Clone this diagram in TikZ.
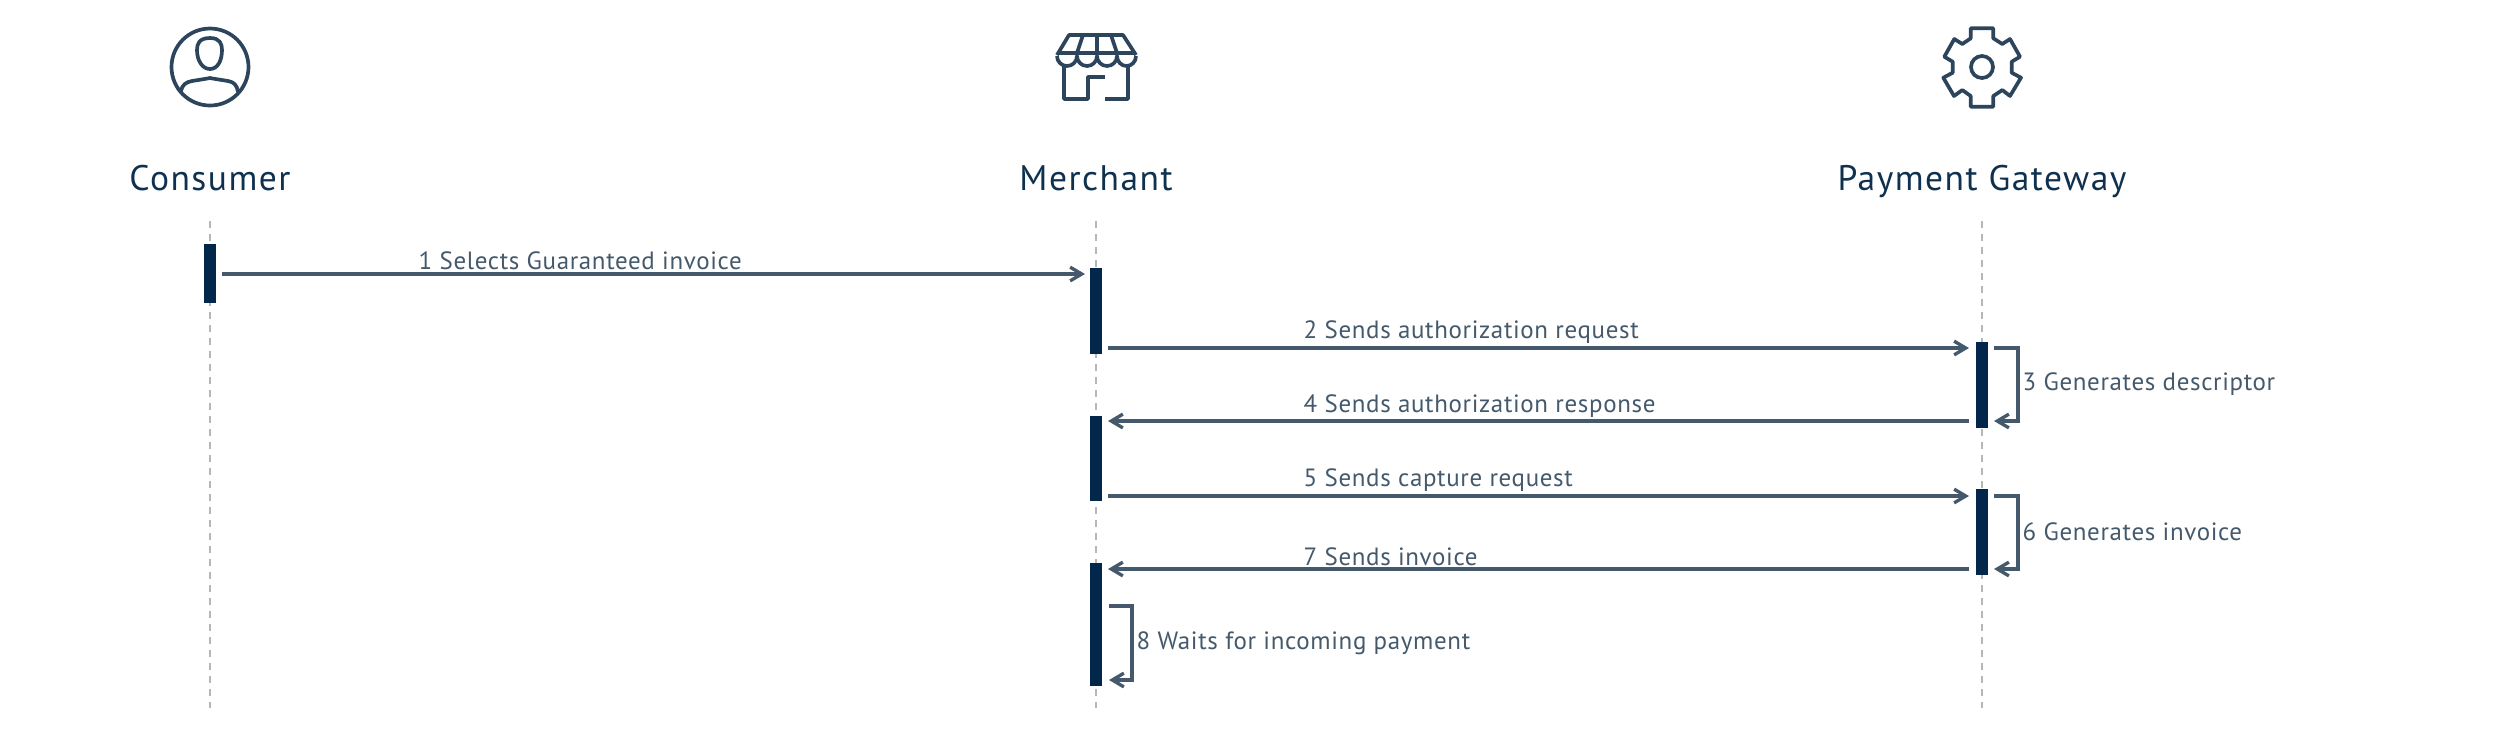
\documentclass[tikz,border=0pt]{standalone}
\usepackage{xcolor}
\usepackage{fontspec}
\usepackage{tikz}
\usetikzlibrary{arrows.meta}
\setmainfont{PT Sans}
\newfontfamily\titleFont[LetterSpace=4.2]{PT Sans}
\newfontfamily\labelFont[LetterSpace=2.6]{PT Sans}
\definecolor{navyBar}{HTML}{02274A}
\definecolor{navyTitle}{HTML}{0F3150}
\definecolor{slateArrow}{HTML}{44596B}
\definecolor{slateIcon}{HTML}{2C455C}
\definecolor{grayLifeline}{HTML}{B4B8BC}

\begin{document}
\begin{tikzpicture}[x=0.01cm,y=-0.01cm]

            \tikzset{
                titlebox/.style={
                    anchor=base,
                    inner sep=0pt,
                    font=\titleFont\fontsize{10.1}{12}\selectfont,
                    text=navyTitle
                },
                msglabel/.style={
                    anchor=base west,
                    inner sep=0pt,
                    font=\labelFont\fontsize{7.1}{9}\selectfont,
                    text=slateArrow
                },
                actbar/.style={
                    fill=navyBar,
                    inner sep=0pt,
                    minimum width=0.125cm
                },
                lifeline/.style={
                    draw=grayLifeline,
                    line width=0.3pt,
                    dash pattern=on 2pt off 1.7pt
                },
                msgarrow/.style={
                    draw=slateArrow,
                    line width=1.3pt,
                    -{Straight Barb[length=3.3pt,width=3.9pt,line width=0.95pt]}
                },
                iconline/.style={
                    draw=slateIcon,
                    line width=1.05pt,
                    line join=round
                }
            }

            \newcommand{\ActBar}[4]{%
                \node[actbar, minimum height=#4*0.01cm] (#1) at (#2,#3) {};
            }
            \newcommand{\MsgArrow}[7]{%
                \coordinate (#1From) at (#2,#4);
                \coordinate (#1To) at (#3,#4);
                \draw[msgarrow] (#1From) -- (#1To);
                \node[msglabel] (#1Label) at (#5,#6) {#7};
            }
            \newcommand{\SelfArrow}[7]{%
                \coordinate (#1From) at (#2,#4);
                \coordinate (#1To) at (#2,#5);
                \draw[msgarrow] (#1From) -| (#3,#5) -- (#1To);
                \node[msglabel] (#1Label) at (#3+4,#6) {#7};
            }

            \useasboundingbox (0,0) rectangle (2520,735);

            % lifelines
            \coordinate (consumerTop) at (210,221);
            \coordinate (consumerEnd) at (210,708);
            \coordinate (merchantTop) at (1096,221);
            \coordinate (merchantEnd) at (1096,708);
            \coordinate (gatewayTop) at (1982,221);
            \coordinate (gatewayEnd) at (1982,708);
            \draw[lifeline] (consumerTop) -- (consumerEnd);
            \draw[lifeline] (merchantTop) -- (merchantEnd);
            \draw[lifeline] (gatewayTop) -- (gatewayEnd);

            % titles
            \node[titlebox] (consumer) at (210,190) {Consumer};
            \node[titlebox] (merchant) at (1096,190) {Merchant};
            \node[titlebox] (gateway) at (1982,190) {Payment Gateway};

            % icon consumer
            \draw[iconline] (210,67) circle (38.5);
            \draw[iconline] (210,38) .. controls (199,38) and (197,44) .. (197,50)
                .. controls (197,60) and (202,69) .. (210,69)
                .. controls (218,69) and (222,60) .. (222,50)
                .. controls (222,44) and (220,38) .. (210,38) -- cycle;
            \draw[iconline] (181,91) .. controls (182,85) and (186,82) .. (192,81)
                .. controls (198,80) and (205,79) .. (210,78)
                .. controls (215,79) and (222,80) .. (228,81)
                .. controls (234,82) and (237,85) .. (238,92);

            % icon merchant
            \draw[iconline] (1057,55) -- (1069,35) -- (1123,35) -- (1136,55);
            \draw[iconline] (1057,53) -- (1136,53);
            \draw[iconline] (1083,35) -- (1077,53);
            \draw[iconline] (1097,35) -- (1097,53);
            \draw[iconline] (1111,35) -- (1117,53);
            \draw[iconline] (1057,56) arc[start angle=180,end angle=360,x radius=10,y radius=-10]
                arc[start angle=180,end angle=360,x radius=10,y radius=-10]
                arc[start angle=180,end angle=360,x radius=10,y radius=-10]
                arc[start angle=180,end angle=360,x radius=9.5,y radius=-10];
            \draw[iconline] (1064,66) -- (1064,99) -- (1088,99) -- (1088,77) -- (1105,77);
            \draw[iconline] (1105,99) -- (1128,99) -- (1128,66);

            % icon gateway
            \draw[iconline] (1970.7,28.3) -- (1993.3,28.3) -- (1993.3,38.3) -- (2002.3,44)
                -- (2010,39) -- (2020,56.7) -- (2011.7,61.7) -- (2011.7,72.7) -- (2021,77.7)
                -- (2010,96) -- (2002.3,90) -- (1993.3,96) -- (1993.3,106.7) -- (1970.7,106.7)
                -- (1970.7,96) -- (1962.3,90) -- (1954,96) -- (1943.3,77.7) -- (1952.7,72.7)
                -- (1952.7,61.7) -- (1944.3,56.7) -- (1954.3,39) -- (1962.3,44) -- (1970.7,38.3) -- cycle;
            \draw[iconline] (1982,67) circle (11);

            % activation bars
            \ActBar{barConsumer}{210}{273.5}{59}
            \ActBar{barMerchantA}{1096}{311}{86}
            \ActBar{barMerchantB}{1096}{458.5}{85}
            \ActBar{barMerchantC}{1096}{624.5}{123}
            \ActBar{barGatewayA}{1982}{385}{86}
            \ActBar{barGatewayB}{1982}{532}{86}

            % messages
            \MsgArrow{selects}{222}{1085}{274}{418}{269}{1 Selects Guaranteed invoice}
            \MsgArrow{authReq}{1108}{1969}{348}{1303}{338}{2 Sends authorization request}
            \MsgArrow{authRes}{1969}{1108}{421}{1303}{412}{4 Sends authorization response}
            \MsgArrow{capture}{1108}{1969}{496}{1303}{486}{5 Sends capture request}
            \MsgArrow{invoice}{1969}{1108}{569}{1303}{565}{7 Sends invoice}

            \SelfArrow{descriptor}{1994}{2018}{348}{421}{390}{3 Generates descriptor}
            \SelfArrow{genInvoice}{1994}{2018}{496}{569}{540}{6 Generates invoice}
            \SelfArrow{waits}{1109}{1132}{606}{680}{649}{8 Waits for incoming payment}

        \end{tikzpicture}
\end{document}
